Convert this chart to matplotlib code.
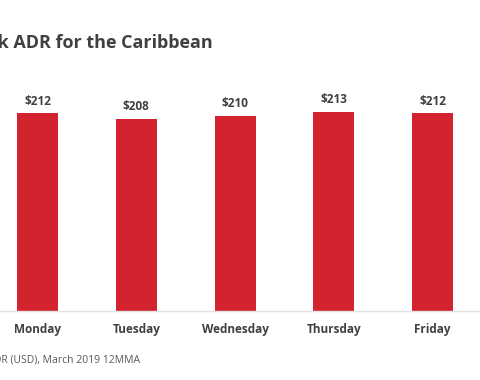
import matplotlib.pyplot as plt

days = ['Monday', 'Tuesday', 'Wednesday', 'Thursday', 'Friday']
adr = [212, 208, 210, 213, 212]
labels = ['$212', '$208', '$210', '$213', '$212']

plt.rcParams['font.family'] = ['Open Sans', 'DejaVu Sans']

fig = plt.figure(figsize=(4.8, 3.8), dpi=100)
# axes spans the whole width, chart is cropped on both sides
ax = fig.add_axes([0, 69 / 380, 1, 251 / 380])
x = list(range(len(days)))
ax.bar(x, adr, width=0.415, color='#D2232F', zorder=2)
ax.set_xlim(-0.38, 4.48)
ax.set_ylim(70.6, 249.9)

for xi, v, lab in zip(x, adr, labels):
    ax.annotate(lab, (xi, v), xytext=(0, 4), textcoords='offset points',
                ha='center', va='bottom', fontsize=8.5, fontweight='bold',
                color='#404040')

ax.set_xticks(x)
ax.set_xticklabels(days, fontsize=8.5, fontweight='bold', color='#404040')
ax.tick_params(axis='x', length=0, pad=9)
ax.set_yticks([])
for s in ['top', 'left', 'right']:
    ax.spines[s].set_visible(False)
ax.spines['bottom'].set_color('#E3E3E3')
ax.spines['bottom'].set_linewidth(1)

fig.text(213 / 480, 1 - 43 / 380, 'Day of Week ADR for the Caribbean',
         ha='right', va='center', fontsize=13, fontweight='bold', color='#404040')
fig.text(140 / 480, 1 - 360 / 380, 'Source: STR. ADR (USD), March 2019 12MMA',
         ha='right', va='center', fontsize=7.5, color='#595959')

fig.savefig('out.png', dpi=100, facecolor='white')
